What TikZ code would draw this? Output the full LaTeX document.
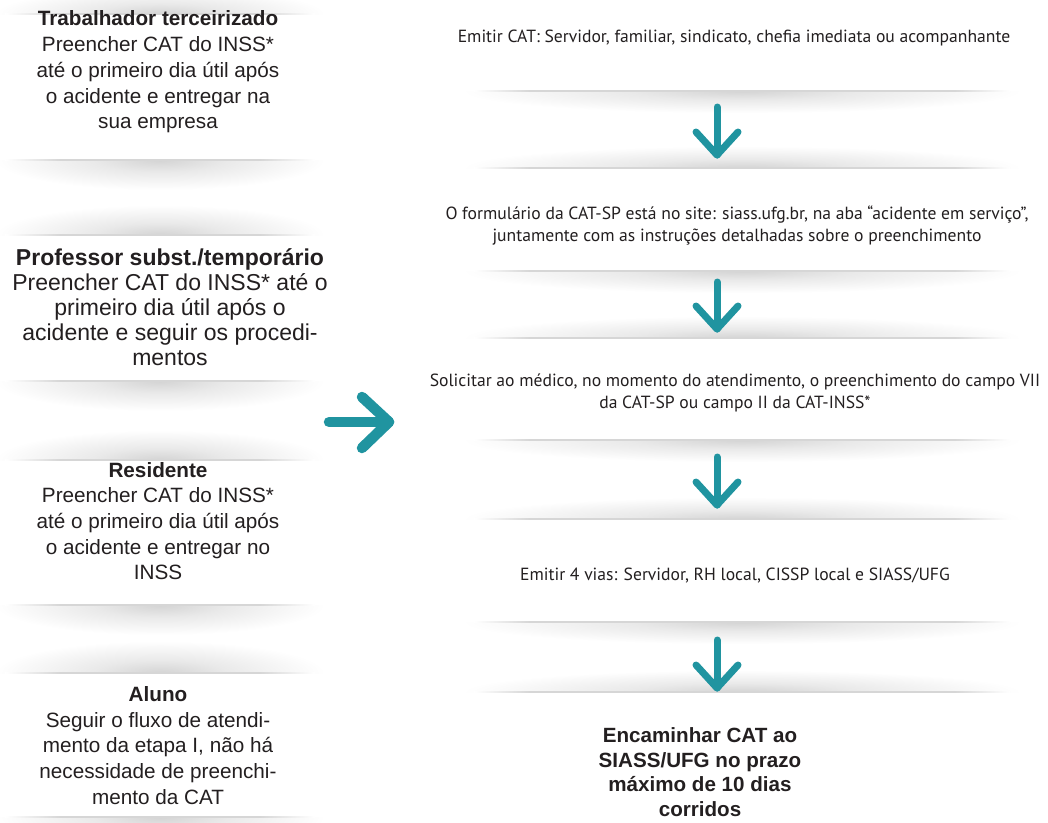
\documentclass[tikz,border=0pt]{standalone}
\usepackage{fontspec}
\setmainfont{Liberation Sans}
\newfontfamily\myriadlike{PT Sans}
\usetikzlibrary{calc}
\definecolor{tealc}{RGB}{32,148,160}
\definecolor{txt}{RGB}{35,31,32}
\definecolor{shadowc}{gray}{0.83}
\definecolor{shadowmid}{gray}{0.915}
\definecolor{linec}{gray}{0.84}
\pgfdeclareradialshading{shfade}{\pgfpoint{0bp}{0bp}}{color(0bp)=(shadowc); color(10bp)=(shadowmid); color(25bp)=(white); color(50bp)=(white)}
% #1 centre x, #2 half width of line, #3 y, #4 signed depth, #5 half width of shadow
\newcommand\sepshadow[5]{%
  \begin{scope}
    \clip (#1-#5,#3) rectangle (#1+#5,#3+#4);
    \shade[shading=shfade] (#1-#5,#3-#4) rectangle (#1+#5,#3+#4);
  \end{scope}
  \shade[left color=white,right color=linec] (#1-#2,#3-0.8) rectangle (#1-#2+55,#3+0.8);
  \fill[linec] (#1-#2+55,#3-0.8) rectangle (#1+#2-55,#3+0.8);
  \shade[left color=linec,right color=white] (#1+#2-55,#3-0.8) rectangle (#1+#2,#3+0.8);
}
\begin{document}
\begin{tikzpicture}[x=1pt,y=-1pt,
  lefttxt/.style={align=center,text=txt,inner sep=0pt,font=\fontsize{20.7}{25.7}\selectfont},
  bigtxt/.style={align=center,text=txt,inner sep=0pt,font=\fontsize{23}{25}\selectfont},
  righttxt/.style={align=center,text=txt,inner sep=0pt,font=\myriadlike\fontsize{17.6}{21.5}\selectfont},
  endtxt/.style={align=center,text=txt,inner sep=0pt,font=\bfseries\fontsize{20.6}{24.7}\selectfont},
  downarrow/.style={draw=tealc,line width=7pt,line cap=round,line join=round},
  bigarrow/.style={draw=tealc,line width=10.5pt,line cap=round,line join=round}]
\fill[white] (0,0) rectangle (1048,822);
\useasboundingbox (0,0) rectangle (1048,822);

% left column separators
\sepshadow{160}{155}{14}{-26}{165}
\sepshadow{160}{155}{160}{30}{165}
\sepshadow{160}{155}{235}{-30}{165}
\sepshadow{160}{155}{381}{30}{165}
\sepshadow{160}{155}{460}{-30}{165}
\sepshadow{160}{155}{605}{30}{165}
\sepshadow{160}{155}{673}{-32}{165}
\sepshadow{160}{155}{817}{30}{165}

% right column separators
\sepshadow{742}{268}{91}{22}{280}
\sepshadow{742}{268}{168}{-22}{280}
\sepshadow{742}{268}{271}{22}{280}
\sepshadow{742}{268}{338}{-22}{280}
\sepshadow{742}{268}{440}{22}{280}
\sepshadow{742}{268}{519}{-22}{280}
\sepshadow{742}{268}{622}{22}{280}
\sepshadow{742}{268}{692}{-22}{280}

% left column texts
\node[lefttxt] (trab) at (158,72) {\textbf{Trabalhador terceirizado}\\Preencher CAT do INSS*\\até o primeiro dia útil após\\o acidente e entregar na\\sua empresa};
\node[bigtxt] (prof) at (170,307) {\textbf{Professor subst./temporário}\\Preencher CAT do INSS* até o\\primeiro dia útil após o\\acidente e seguir os procedi-\\mentos};
\node[lefttxt] (resi) at (158,521) {\textbf{Residente}\\Preencher CAT do INSS*\\até o primeiro dia útil após\\o acidente e entregar no\\INSS};
\node[lefttxt] (alun) at (158,745.5) {\textbf{Aluno}\\Seguir o fluxo de atendi-\\mento da etapa I, não há\\necessidade de preenchi-\\mento da CAT};

% right column texts
\node[righttxt] (r1) at (734,38) {Emitir CAT: Servidor, familiar, sindicato, chefia imediata ou acompanhante};
\node[righttxt] (r2) at (737,225.5) {O formulário da CAT-SP está no site: siass.ufg.br, na aba “acidente em serviço”,\\juntamente com as instruções detalhadas sobre o preenchimento};
\node[righttxt] (r3) at (735,393) {Solicitar ao médico, no momento do atendimento, o preenchimento do campo VII\\da CAT-SP ou campo II da CAT-INSS*};
\node[righttxt] (r4) at (735,576) {Emitir 4 vias: Servidor, RH local, CISSP local e SIASS/UFG};
\node[endtxt] (r5) at (700,772) {Encaminhar CAT ao\\SIASS/UFG no prazo\\máximo de 10 dias\\corridos};

% arrow end points
\coordinate (a1s) at (717,107); \coordinate (a1e) at (717,155);
\coordinate (a2s) at (717,282); \coordinate (a2e) at (717,329);
\coordinate (a3s) at (717,457); \coordinate (a3e) at (717,505);
\coordinate (a4s) at (717,640); \coordinate (a4e) at (717,688);
\coordinate (bs) at (329,422); \coordinate (be) at (389,422);

\foreach \s/\e in {a1s/a1e,a2s/a2e,a3s/a3e,a4s/a4e}{
  \draw[downarrow] (\s) -- (\e);
  \draw[downarrow] ($(\e)+(-21,-23)$) -- (\e) -- ($(\e)+(21,-23)$);
}
\draw[bigarrow] (bs) -- (be);
\draw[bigarrow] ($(be)+(-27,-25)$) -- (be) -- ($(be)+(-27,26)$);
\end{tikzpicture}
\end{document}
